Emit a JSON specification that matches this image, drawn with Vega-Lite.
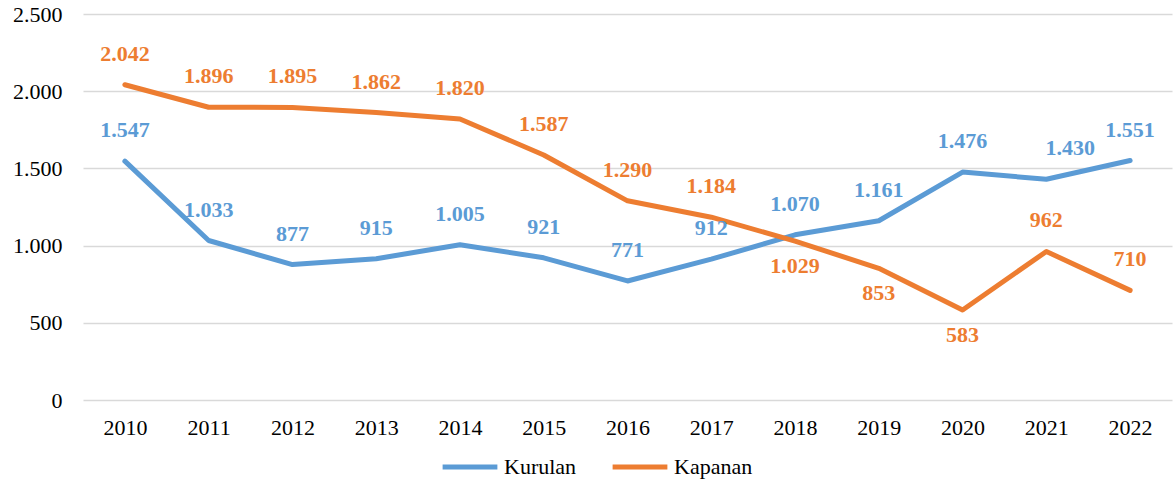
{
  "$schema": "https://vega.github.io/schema/vega-lite/v6.json",
  "width": 1089,
  "height": 386,
  "autosize": "none",
  "padding": {"left": 83, "top": 14, "right": 4, "bottom": 84},
  "background": "white",
  "config": {
    "locale": {"number": {"decimal": ",", "thousands": ".", "grouping": [3], "currency": ["", " TL"]}},
    "font": "Liberation Serif, serif",
    "axis": {"labelFont": "Liberation Serif, serif"},
    "legend": {"labelFont": "Liberation Serif, serif"},
    "text": {"font": "Liberation Serif, serif"},
    "view": {"stroke": null}
  },
  "data": {
    "values": [
      {"year": "2010", "series": "Kurulan", "value": 1547},
      {"year": "2011", "series": "Kurulan", "value": 1033},
      {"year": "2012", "series": "Kurulan", "value": 877},
      {"year": "2013", "series": "Kurulan", "value": 915},
      {"year": "2014", "series": "Kurulan", "value": 1005},
      {"year": "2015", "series": "Kurulan", "value": 921},
      {"year": "2016", "series": "Kurulan", "value": 771},
      {"year": "2017", "series": "Kurulan", "value": 912},
      {"year": "2018", "series": "Kurulan", "value": 1070},
      {"year": "2019", "series": "Kurulan", "value": 1161},
      {"year": "2020", "series": "Kurulan", "value": 1476},
      {"year": "2021", "series": "Kurulan", "value": 1430},
      {"year": "2022", "series": "Kurulan", "value": 1551},
      {"year": "2010", "series": "Kapanan", "value": 2042},
      {"year": "2011", "series": "Kapanan", "value": 1896},
      {"year": "2012", "series": "Kapanan", "value": 1895},
      {"year": "2013", "series": "Kapanan", "value": 1862},
      {"year": "2014", "series": "Kapanan", "value": 1820},
      {"year": "2015", "series": "Kapanan", "value": 1587},
      {"year": "2016", "series": "Kapanan", "value": 1290},
      {"year": "2017", "series": "Kapanan", "value": 1184},
      {"year": "2018", "series": "Kapanan", "value": 1029},
      {"year": "2019", "series": "Kapanan", "value": 853},
      {"year": "2020", "series": "Kapanan", "value": 583},
      {"year": "2021", "series": "Kapanan", "value": 962},
      {"year": "2022", "series": "Kapanan", "value": 710}
    ]
  },
  "encoding": {
    "x": {
      "field": "year", "type": "ordinal",
      "scale": {"type": "point", "padding": 0.5},
      "axis": {"title": null, "labelAngle": 0, "labelFontSize": 22, "labelColor": "#000000", "ticks": false, "domain": false, "labelPadding": 17}
    },
    "y": {
      "field": "value", "type": "quantitative",
      "scale": {"domain": [0, 2500]},
      "axis": {"title": null, "values": [0, 500, 1000, 1500, 2000, 2500], "format": ",.0f", "labelFontSize": 22, "labelColor": "#000000", "ticks": false, "domain": false, "labelPadding": 21, "gridColor": "#d9d9d9", "gridWidth": 1.3}
    },
    "color": {
      "field": "series", "type": "nominal",
      "scale": {"domain": ["Kurulan", "Kapanan"], "range": ["#5b9bd5", "#ed7d31"]},
      "legend": {"title": null, "orient": "none", "legendX": 357, "legendY": 423, "direction": "horizontal", "symbolType": "stroke", "symbolSize": 3000, "symbolStrokeWidth": 5, "labelFontSize": 22, "labelColor": "#000000", "columnPadding": 25, "labelOffset": 4}
    }
  },
  "layer": [
    {
      "mark": {"type": "line", "strokeWidth": 5, "strokeCap": "round", "strokeJoin": "round"},
      "encoding": {"detail": {"field": "series"}}
    },
    {
      "transform": [{"filter": "!(datum.series === 'Kapanan' && (datum.year === '2018' || datum.year === '2019' || datum.year === '2020')) && !(datum.series === 'Kurulan' && datum.year === '2021')"}],
      "mark": {"type": "text", "fontWeight": "bold", "fontSize": 22, "dy": -31, "baseline": "middle"},
      "encoding": {"text": {"field": "value", "type": "quantitative", "format": ","}}
    },
    {
      "transform": [{"filter": "datum.series === 'Kurulan' && datum.year === '2021'"}],
      "mark": {"type": "text", "fontWeight": "bold", "fontSize": 22, "dx": 24, "dy": -31, "baseline": "middle"},
      "encoding": {"text": {"field": "value", "type": "quantitative", "format": ","}}
    },
    {
      "transform": [{"filter": "datum.series === 'Kapanan' && (datum.year === '2018' || datum.year === '2019' || datum.year === '2020')"}],
      "mark": {"type": "text", "fontWeight": "bold", "fontSize": 22, "dy": 25, "baseline": "middle"},
      "encoding": {"text": {"field": "value", "type": "quantitative", "format": ","}}
    }
  ]
}
